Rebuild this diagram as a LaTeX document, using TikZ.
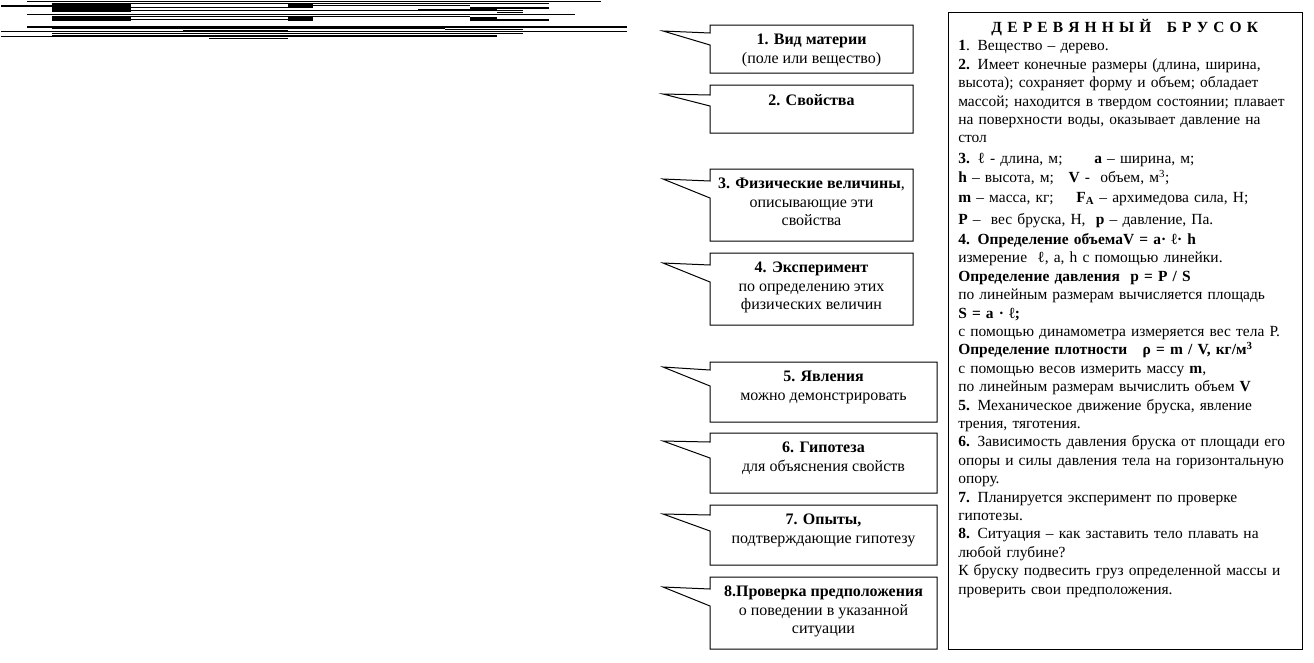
\documentclass[tikz,border=0pt]{standalone}
\usepackage{fontspec}
\setmainfont{Liberation Serif}

\newcommand\jline[1]{\makebox[\hsize][s]{#1}}
\newcommand\tabto[2]{\makebox[#1][l]{#2}}
% #1 name, #2 top, #3 bottom, #4 right, #5 tip, #6/#7 wedge, #8 text
\newcommand\wedgebox[8]{%
  \draw[outline] (710,#2) -- (710,#6) -- (663,#5) -- (710,#7) -- (710,#3) -- (#4,#3) -- (#4,#2) -- cycle;
  \node[boxtext] (#1) at ({(710+#4)/2},#2+9) {#8};
}

\begin{document}
\begin{tikzpicture}[x=0.75pt, y=-0.75pt,
                   outline/.style={draw=black, line width=0.75pt},
                   boxtext/.style={anchor=north, align=center, inner sep=0pt, font=\fontsize{12}{13.8}\selectfont},
                   bodytext/.style={anchor=north west, align=left, inner sep=0pt, text width=249.75pt, font=\fontsize{11.6}{13.8}\selectfont}]
\useasboundingbox (0,0) rectangle (1314,662);

\foreach \xa/\ya/\xb/\yb in {27/1/601/2, 52/3/131/12, 131/3/549/4, 288/4/313/8, 313/4.5/470/6,
    1/5/52/7, 131/6.5/288/7.5, 470/7/549/8.5, 131/9.5/523/11, 418/9/497/10, 497/11.5/523/12.5,
    27/14/575/15, 52/16/131/21, 131/16/470/17, 288/17/313/21, 470/17/497/21, 470/18.5/549/21,
    131/19/288/20, 27/26/627/27.5, 52/27.5/445/29, 183/29.5/288/31, 445/28.5/523/29.5,
    1/30.5/627/31.5, 52/32.5/523/33.5, 52/34.5/497/35.5, 1/36/497/37, 209/37.5/288/39}
  \fill (\xa,\ya) rectangle (\xb,\yb);

\wedgebox{v1}{25}{73}{913}{31}{33}{45}{\textbf{1. Вид материи}\\(поле или вещество)}
\wedgebox{v2}{85}{133}{913}{94}{95}{106}{\textbf{2. Свойства}}
\wedgebox{v3}{169}{241}{913}{179}{181}{198}{\textbf{3. Физические величины},\\описывающие эти\\свойства}
\wedgebox{v4}{253}{325}{913}{263}{265}{282}{\textbf{4. Эксперимент}\\по определению этих\\физических величин}
\wedgebox{v5}{362}{422}{937}{367}{370}{386}{\textbf{5. Явления}\\можно демонстрировать}
\wedgebox{v6}{433}{493}{937}{441}{442}{458}{\textbf{6. Гипотеза}\\для объяснения свойств}
\wedgebox{v7}{505}{565}{937}{514}{515}{531}{\textbf{7. Опыты,}\\подтверждающие гипотезу}
\wedgebox{v8}{577}{649}{937}{587}{589}{606}{\textbf{8.Проверка предположения}\\о поведении в указанной\\ситуации}

\node[outline, anchor=north west, inner sep=0pt, minimum width=265.5pt, minimum height=477.75pt] (frame) at (948,12) {};
\node[bodytext] (brusok) at (958,19) {%
\makebox[\hsize][c]{\textbf{Д Е Р Е В Я Н Н Ы Й \ \ Б Р У С О К}}\\
\textbf{1}. Вещество – дерево.\\
\jline{\textbf{2.} Имеет конечные размеры (длина, ширина,}\\
\jline{высота); сохраняет форму и объем; обладает}\\
\jline{массой; находится в твердом состоянии; плавает}\\
\jline{на поверхности воды, оказывает давление на}\\
стол\\[2pt]
\tabto{102pt}{\textbf{3.} ℓ - длина, м;}\textbf{a} – ширина, м;\\[0.5pt]
\textbf{h} – высота, м;\hspace{11pt}\textbf{V} -\ \ объем, м\textsuperscript{3};\\[0.5pt]
\textbf{m} – масса, кг;\hspace{17pt}\textbf{F}\textsubscript{\textbf{A}} – архимедова сила, Н;\\[3pt]
\textbf{P} –\ \ вес бруска, Н,\ \ \textbf{p} – давление, Па.\\[1.2pt]
\textbf{4. Определение объемаV = a· ℓ· h}\\
измерение\ \ ℓ, a, h с помощью линейки.\\
\textbf{Определение давления\ \ p = P / S}\\
по линейным размерам вычисляется площадь\\
\textbf{S = a · ℓ;}\\
с помощью динамометра измеряется вес тела Р.\\
\textbf{Определение плотности\ \ \ ρ = m\ / V, кг/м\textsuperscript{3}}\\
с помощью весов измерить массу \textbf{m},\\
по линейным размерам вычислить объем \textbf{V}\\
\textbf{5.} Механическое движение бруска, явление\\
трения, тяготения.\\
\textbf{6.} Зависимость давления бруска от площади его\\
опоры и силы давления тела на горизонтальную\\
опору.\\
\textbf{7.} Планируется эксперимент по проверке\\
гипотезы.\\
\textbf{8.} Ситуация – как заставить тело плавать на\\
любой глубине?\\
К бруску подвесить груз определенной массы и\\
проверить свои предположения.};
\end{tikzpicture}
\end{document}
